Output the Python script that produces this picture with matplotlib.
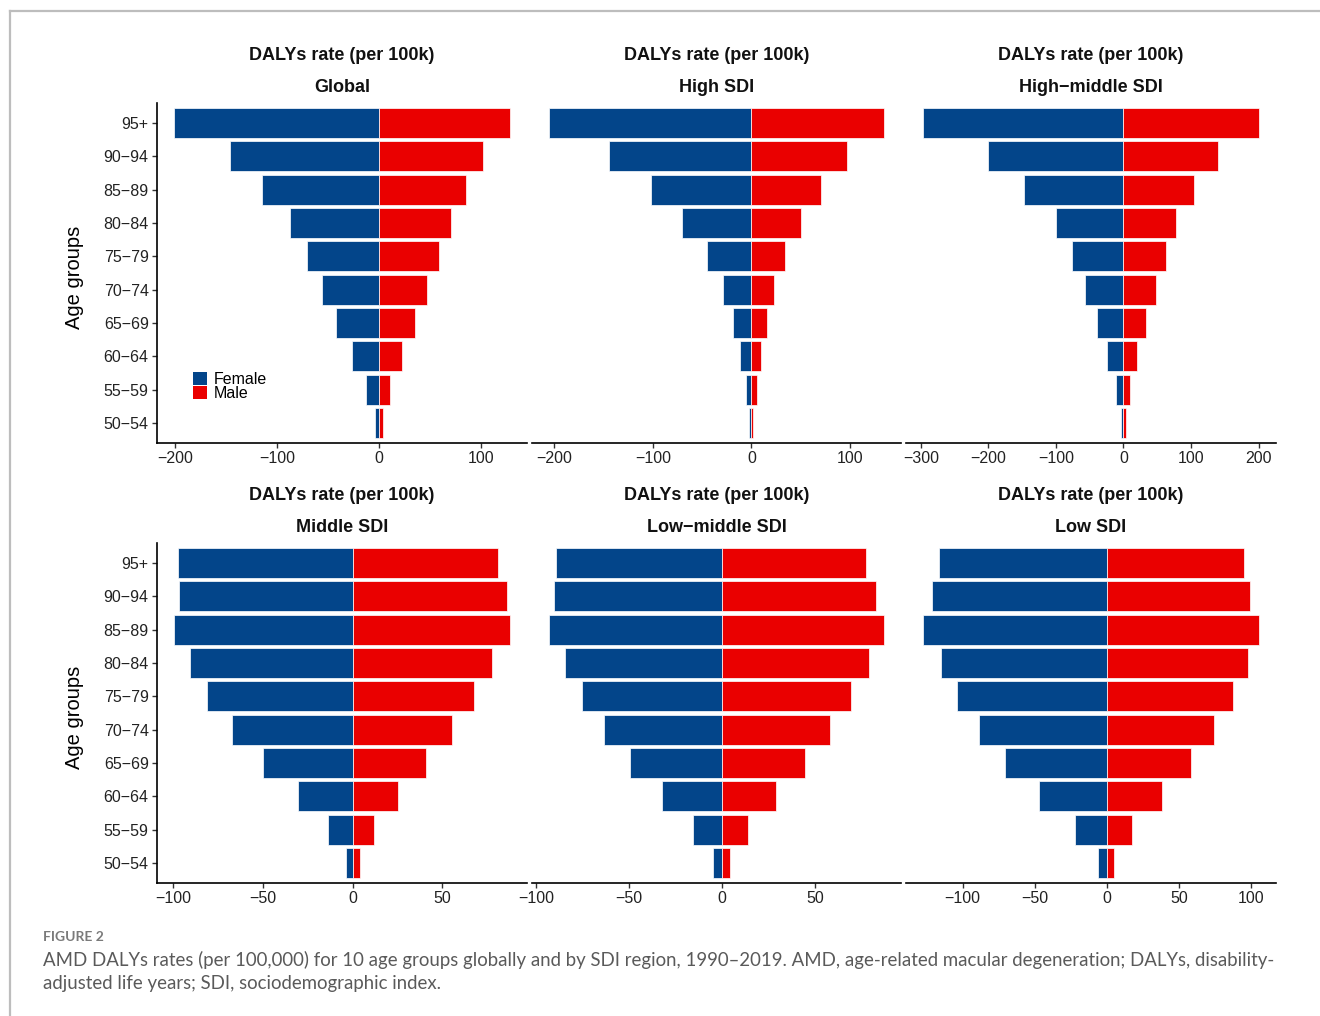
import matplotlib
matplotlib.use("Agg")
import matplotlib.pyplot as plt
from matplotlib.lines import Line2D
from matplotlib.patches import Patch
from matplotlib.ticker import MultipleLocator
import numpy as np

# Age groups, youngest at the bottom
age_groups = ["50−54", "55−59", "60−64", "65−69", "70−74",
              "75−79", "80−84", "85−89", "90−94", "95+"]

regions = ["Global", "High SDI", "High−middle SDI",
           "Middle SDI", "Low−middle SDI", "Low SDI"]

# DALYs rate per 100k, female values stored as negatives (left side)
female_global = [-3.6, -12.5, -26.6, -42.4, -56.2, -70.6, -87.4, -114.6, -146.8, -201.6]
male_global = [3.9, 10.8, 22.3, 35.5, 47.0, 59.1, 70.9, 85.7, 102.5, 129.0]

female_high = [-2.3, -6.0, -11.4, -18.9, -28.4, -44.6, -70.5, -101.9, -144.2, -205.7]
male_high = [2.0, 5.5, 9.8, 15.6, 22.7, 33.8, 50.0, 70.3, 97.0, 134.8]

female_high_middle = [-3.9, -11.8, -24.1, -39.4, -56.7, -76.5, -99.7, -147.6, -200.0, -297.2]
male_high_middle = [3.5, 9.9, 20.7, 33.6, 48.0, 62.8, 77.6, 104.7, 140.3, 201.0]

female_middle = [-4.0, -14.0, -30.5, -49.9, -67.4, -81.2, -90.6, -99.6, -96.7, -97.1]
male_middle = [3.8, 11.9, 25.3, 40.9, 55.3, 67.8, 77.5, 87.7, 85.8, 80.8]

female_low_middle = [-4.7, -15.3, -32.1, -49.7, -63.6, -75.3, -84.4, -93.2, -90.5, -89.2]
male_low_middle = [4.1, 13.8, 29.0, 44.8, 58.2, 69.7, 79.0, 87.4, 83.0, 77.4]

female_low = [-6.3, -22.2, -46.8, -70.6, -88.4, -104.2, -114.8, -127.6, -121.1, -116.2]
male_low = [4.9, 17.8, 38.2, 58.3, 74.3, 87.7, 98.1, 105.8, 99.3, 95.3]

female_series = [female_global, female_high, female_high_middle,
                 female_middle, female_low_middle, female_low]
male_series = [male_global, male_high, male_high_middle,
               male_middle, male_low_middle, male_low]

tick_steps = [100, 100, 100, 50, 50, 50]

strip_top = "DALYs rate (per 100k)"
y_title = "Age groups"
legend_labels = ["Female", "Male"]
caption_head = "FIGURE 2"
caption_lines = [
    "AMD DALYs rates (per 100,000) for 10 age groups globally and by SDI region, 1990\u20132019. "
    "AMD, age-related macular degeneration; DALYs, disability-",
    "adjusted life years; SDI, sociodemographic index.",
]

FEMALE_COLOR = "#03458A"
MALE_COLOR = "#EA0000"

plt.rcParams["font.family"] = ["Liberation Sans", "DejaVu Sans"]

W, H = 1320, 1016
fig = plt.figure(figsize=(W / 100, H / 100), dpi=100)


def fx(px):
    return px / W


def fy(py):
    return 1 - py / H


# panel layout in pixels: (left, right) columns, (top, bottom) rows
cols = [(157, 527), (532, 901), (906, 1276)]
rows = [(103, 443), (543, 883)]

y_pos = np.arange(len(age_groups))

for i, region in enumerate(regions):
    r, c = divmod(i, 3)
    (x0, x1), (t, b) = cols[c], rows[r]
    ax = fig.add_axes([fx(x0), fy(b), (x1 - x0) / W, (b - t) / H])

    fem = np.array(female_series[i])
    mal = np.array(male_series[i])
    ax.barh(y_pos, fem, height=0.9, color=FEMALE_COLOR,
            edgecolor="white", linewidth=0.5, label=legend_labels[0])
    ax.barh(y_pos, mal, height=0.9, color=MALE_COLOR,
            edgecolor="white", linewidth=0.5, label=legend_labels[1])

    lo, hi = fem.min(), mal.max()
    pad = 0.05 * (hi - lo)
    ax.set_xlim(lo - pad, hi + pad)
    ax.set_ylim(-0.6, len(age_groups) - 0.4)
    ax.xaxis.set_major_locator(MultipleLocator(tick_steps[i]))

    for s in ["top", "right"]:
        ax.spines[s].set_visible(False)
    ax.spines["bottom"].set_linewidth(1.2)
    ax.spines["bottom"].set_color("black")
    ax.tick_params(axis="x", length=3.5, width=1.0, color="#333333",
                   labelsize=11.5, labelcolor="#222222", pad=2.5)

    if c == 0:
        ax.spines["left"].set_linewidth(1.2)
        ax.spines["left"].set_color("black")
        ax.set_yticks(y_pos)
        ax.set_yticklabels(age_groups)
        ax.tick_params(axis="y", length=3.5, width=1.0, color="#333333",
                       labelsize=11.5, labelcolor="#222222", pad=2.5)
        fig.text(fx(74), fy((t + b) / 2 + 4), y_title, rotation=90,
                 ha="center", va="center", fontsize=14.5, color="black")
    else:
        ax.spines["left"].set_visible(False)
        ax.set_yticks([])

    cx = fx((x0 + x1) / 2)
    fig.text(cx, fy(t - 48), strip_top, ha="center", va="center",
             fontsize=13, fontweight="bold", color="#111111")
    fig.text(cx, fy(t - 15), region, ha="center", va="center",
             fontsize=13, fontweight="bold", color="#111111")

    if i == 0:
        handles = [Patch(facecolor=FEMALE_COLOR, edgecolor="none"),
                   Patch(facecolor=MALE_COLOR, edgecolor="none")]
        ax.legend(handles, legend_labels, loc="upper left",
                  bbox_to_anchor=(fx(193), fy(372)), bbox_transform=fig.transFigure,
                  frameon=False, fontsize=11.5, handlelength=0.85, handleheight=0.85,
                  handletextpad=0.45, labelspacing=-0.05, borderpad=0, borderaxespad=0)

# page frame lines
fig.add_artist(Line2D([fx(10), 1], [fy(11), fy(11)], color="#BDBDBD", lw=1.6,
                      transform=fig.transFigure))
fig.add_artist(Line2D([fx(10), fx(10)], [fy(11), 0], color="#BDBDBD", lw=1.6,
                      transform=fig.transFigure))

# caption
fig.text(fx(43), fy(937), caption_head, ha="left", va="center", fontsize=10,
         fontweight="bold", color="#7A7A7A", family=["Lato", "DejaVu Sans"])
for k, line in enumerate(caption_lines):
    fig.text(fx(43), fy(960 + 24 * k), line, ha="left", va="center", fontsize=13.4,
             color="#5A5A5A", family=["Lato", "DejaVu Sans"])

fig.savefig("out.png", dpi=100, facecolor="white")
